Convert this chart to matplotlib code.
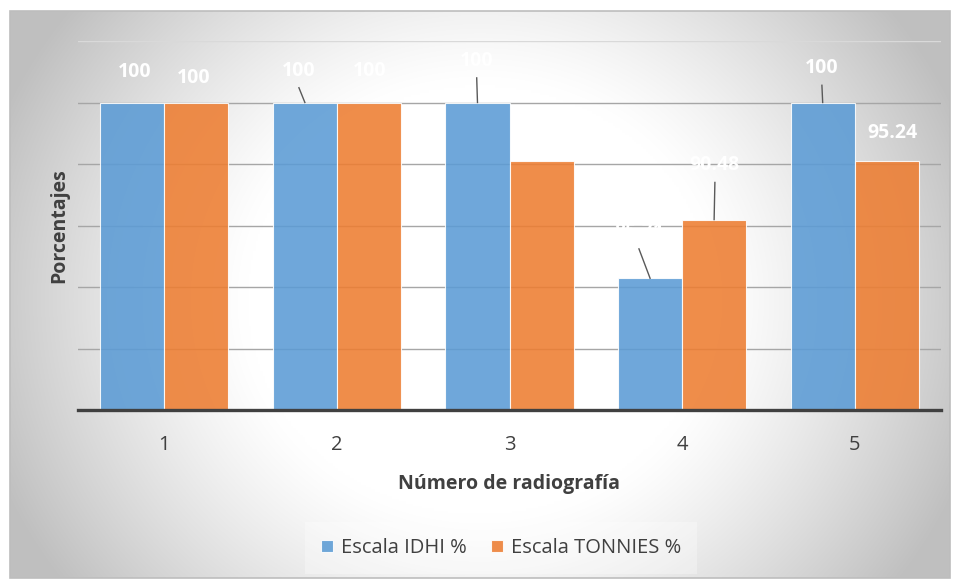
import matplotlib.pyplot as plt
import numpy as np
from matplotlib.patches import Rectangle

# data
radiografias = ['1', '2', '3', '4', '5']
idhi = [100, 100, 100, 85.71, 100]
tonnies = [100, 100, 95.24, 90.48, 95.24]

# label positions (x offset in category units, y in data units) and leader lines
idhi_lbl = [(-0.17, 102.5, False), (-0.22, 102.6, True), (-0.19, 103.4, True), (-0.25, 89.5, True), (-0.19, 102.8, True)]
ton_lbl = [(0.17, 102.0, False), (0.19, 102.6, False), (0.19, 97.6, False), (0.19, 94.9, True), (0.22, 97.5, False)]

plt.rcParams['font.family'] = ['Open Sans', 'DejaVu Sans']
fig = plt.figure(figsize=(9.56, 5.79), dpi=100)

# radial background of the chart area
bg = fig.add_axes([0, 0, 1, 1], zorder=-10)
bg.set_xlim(0, 956)
bg.set_ylim(579, 0)
bg.axis('off')
x0, x1, y0, y1 = 10, 950, 11, 578
xx, yy = np.meshgrid(np.linspace(x0, x1, 400), np.linspace(y0, y1, 240))
cx, cy = 480, 300
d = np.sqrt(((xx - cx) / 520.0) ** 2 + ((yy - cy) / 480.0) ** 2)
d = np.clip((d - 0.45) / 0.55, 0, 1)
v = 1.0 - 0.25 * d ** 1.2
bg.imshow(np.dstack([v, v, v]), extent=[x0, x1, y1, y0], aspect='auto', interpolation='bilinear')
bg.add_patch(Rectangle((x0, y0), x1 - x0, y1 - y0, fill=False, edgecolor='#bdbdbd', lw=1.2))

ax = fig.add_axes([78 / 956, 1 - 410 / 579, (941 - 78) / 956, (410 - 41) / 579])
ax.patch.set_alpha(0)
x = np.arange(len(radiografias))
w = 0.371

for g in [80, 85, 90, 95, 100]:
    ax.axhline(g, color='#a6a6a6', lw=1, zorder=1)
ax.axhline(105, color='#d9d9d9', lw=1, zorder=1)

ax.bar(x - w / 2, idhi, w, color='#5B9BD5', alpha=0.88, edgecolor='white', lw=0.8, zorder=2,
       label='Escala IDHI %')
ax.bar(x + w / 2, tonnies, w, color='#ED7D31', alpha=0.88, edgecolor='white', lw=0.8, zorder=2,
       label='Escala TONNIES %')

def etiquetas(vals, offs, base):
    for i, (val, (dx, ly, leader)) in enumerate(zip(vals, offs)):
        txt = '100' if val == 100 else f'{val:.2f}'
        ax.text(i + dx, ly, txt, ha='center', va='center', color='white',
                fontsize=14, fontweight='bold', zorder=5)
        if leader:
            bx = i + base
            ax.plot([i + dx, bx], [ly - 1.4, val], color='#595959', lw=1, zorder=4)

etiquetas(idhi, idhi_lbl, -w / 2)
etiquetas(tonnies, ton_lbl, w / 2)

ax.set_xlim(-0.5, 4.5)
ax.set_ylim(75, 105)
ax.set_yticks([])
ax.set_xticks(x)
ax.set_xticklabels(radiografias, fontsize=14.5, color='#404040')
ax.tick_params(axis='x', length=0, pad=18)
for s in ['top', 'right', 'left']:
    ax.spines[s].set_visible(False)
ax.spines['bottom'].set_color('#404040')
ax.spines['bottom'].set_linewidth(2.4)
ax.spines['bottom'].set_zorder(6)

ax.set_xlabel('Número de radiografía', fontsize=14, fontweight='bold', color='#404040', labelpad=14)
ax.set_ylabel('Porcentajes', fontsize=14, fontweight='bold', color='#404040', labelpad=6)

leg = ax.legend(loc='center', bbox_to_anchor=(0.49, -0.374), ncol=2, frameon=True,
                fontsize=14.5, handlelength=0.6, handleheight=0.6, columnspacing=1.2,
                handletextpad=0.4, borderpad=0.5)
leg.get_frame().set_facecolor('white')
leg.get_frame().set_alpha(0.3)
leg.get_frame().set_edgecolor('none')
leg.get_frame().set_boxstyle('square')
for t in leg.get_texts():
    t.set_color('#404040')

fig.savefig('out.png', dpi=100)
